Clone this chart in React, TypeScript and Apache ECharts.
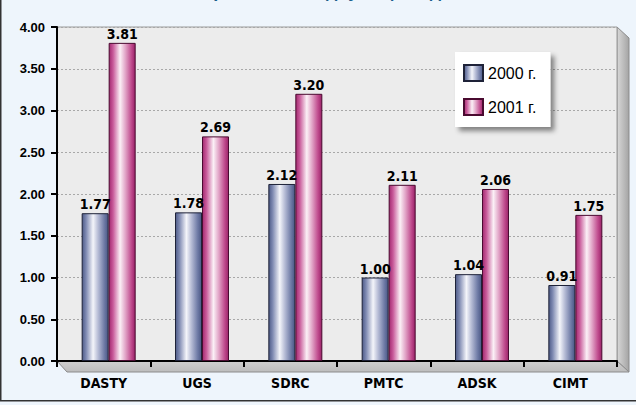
import React, { useEffect, useRef } from "react";
import * as echarts from "echarts";

const categories = ["DASTY", "UGS", "SDRC", "PMTC", "ADSK", "CIMT"];
const values2000 = [1.77, 1.78, 2.12, 1.0, 1.04, 0.91];
const values2001 = [3.81, 2.69, 3.2, 2.11, 2.06, 1.75];
const seriesNames = ["2000 г.", "2001 г."];
const yMin = 0;
const yMax = 4;
const yInterval = 0.5;
const titleText = "Прибыль на одну акцию, долл.";

const NARROW = "'Liberation Sans Narrow', 'DejaVu Sans Condensed', 'Liberation Sans', Arial, sans-serif";
const SANS = "'Liberation Sans', Arial, Helvetica, sans-serif";

const GL = 57, GT = 27, GW = 560, GH = 334, SHIFT = 5, DEPTH = 11;

export default function App() {
  const ref = useRef<HTMLDivElement>(null);
  useEffect(() => {
    if (!ref.current) return;
    const chart = echarts.init(ref.current, undefined, { renderer: "svg" });
    const blue = new echarts.graphic.LinearGradient(0, 0, 1, 0, [
      { offset: 0, color: "#4E5B88" },
      { offset: 0.15, color: "#7F8AB2" },
      { offset: 0.42, color: "#F4F5FA" },
      { offset: 0.62, color: "#B4BAD4" },
      { offset: 0.85, color: "#6F7BA6" },
      { offset: 1, color: "#4A5785" },
    ]);
    const pink = new echarts.graphic.LinearGradient(0, 0, 1, 0, [
      { offset: 0, color: "#A32A70" },
      { offset: 0.15, color: "#C85A9A" },
      { offset: 0.42, color: "#FBF0F6" },
      { offset: 0.62, color: "#E2A6C8" },
      { offset: 0.85, color: "#C04C8E" },
      { offset: 1, color: "#9A2268" },
    ]);
    const gb = GT + GH;
    const gr = GL + GW;
    const labelCfg = {
      show: true,
      position: "top" as const,
      distance: 2,
      fontFamily: NARROW,
      fontWeight: "bold" as const,
      fontSize: 14,
      color: "#000",
      formatter: (p: any) => Number(p.value).toFixed(2),
    };
    chart.setOption({
      animation: false,
      backgroundColor: "#EEF5FC",
      graphic: [
        {
          type: "polygon",
          z: -10,
          shape: { points: [[gr, GT], [gr + DEPTH + 1, GT + DEPTH], [gr + DEPTH + 1, gb + DEPTH], [gr, gb]] },
          style: {
            fill: new echarts.graphic.LinearGradient(0, 0, 1, 0, [
              { offset: 0, color: "#D8D8D8" },
              { offset: 1, color: "#A4A4A4" },
            ]),
            stroke: "#8C8C8C",
            lineWidth: 1,
          },
        },
        {
          type: "polygon",
          z: -10,
          shape: { points: [[GL, gb], [gr, gb], [gr + DEPTH + 1, gb + DEPTH], [GL + DEPTH - 1, gb + DEPTH]] },
          style: {
            fill: new echarts.graphic.LinearGradient(0, 0, 0, 1, [
              { offset: 0, color: "#CFCFCF" },
              { offset: 1, color: "#BDBDBD" },
            ]),
            stroke: "#8C8C8C",
            lineWidth: 1,
          },
        },
        {
          type: "line",
          z: 10,
          shape: { x1: 0.75, y1: 0, x2: 0.75, y2: 401 },
          style: { stroke: "#333", lineWidth: 1.5 },
        },
        {
          type: "line",
          z: 10,
          shape: { x1: 0, y1: 400.75, x2: 636, y2: 400.75 },
          style: { stroke: "#333", lineWidth: 1.5 },
        },
        {
          type: "text",
          z: 10,
          x: 340,
          y: 0,
          style: {
            text: titleText,
            fill: "#1B5F8C",
            font: "bold 18px " + SANS,
            align: "center",
            verticalAlign: "bottom",
          },
        },
      ],
      legend: {
        data: seriesNames,
        orient: "vertical",
        left: 455,
        top: 52,
        icon: "rect",
        itemWidth: 19,
        itemHeight: 16,
        itemGap: 16,
        padding: [12, 14, 11, 8],
        backgroundColor: "#FFFFFF",
        shadowBlur: 5,
        shadowColor: "rgba(0,0,0,0.45)",
        shadowOffsetX: 4,
        shadowOffsetY: 4,
        textStyle: { fontFamily: SANS, fontSize: 16, color: "#000" },
      },
      grid: [
        { left: GL, top: GT, width: GW, height: GH, show: true, backgroundColor: "#ECECEC", borderColor: "#9A9A9A", borderWidth: 1 },
        { left: GL + SHIFT, top: GT, width: GW, height: GH },
      ],
      xAxis: [
        {
          gridIndex: 0,
          type: "category",
          data: categories,
          boundaryGap: true,
          axisLine: { lineStyle: { color: "#000", width: 2 } },
          axisTick: { show: true, length: 6, lineStyle: { color: "#000", width: 2 } },
          axisLabel: { margin: 15, fontFamily: NARROW, fontWeight: "bold", fontSize: 14, color: "#000" },
        },
        { gridIndex: 1, type: "category", data: categories, show: false },
      ],
      yAxis: [
        {
          gridIndex: 0,
          type: "value",
          min: yMin,
          max: yMax,
          interval: yInterval,
          axisLine: { show: true, lineStyle: { color: "#000", width: 2 } },
          axisTick: { show: true, length: 6, lineStyle: { color: "#000", width: 2 } },
          axisLabel: { margin: 12, fontFamily: SANS, fontWeight: "bold", fontSize: 13, color: "#000", formatter: (v: number) => v.toFixed(2) },
          splitLine: { show: true, lineStyle: { color: "#A8A8A8", type: [2, 2], width: 1 } },
        },
        { gridIndex: 1, type: "value", min: yMin, max: yMax, interval: yInterval, show: false, splitLine: { show: false } },
      ],
      series: [
        {
          name: seriesNames[0],
          type: "bar",
          xAxisIndex: 1,
          yAxisIndex: 1,
          data: values2000,
          barWidth: 27,
          barGap: "0%",
          itemStyle: { color: blue, borderColor: "#1E2238", borderWidth: 1 },
          label: labelCfg,
        },
        {
          name: seriesNames[1],
          type: "bar",
          xAxisIndex: 1,
          yAxisIndex: 1,
          data: values2001,
          barWidth: 27,
          barGap: "0%",
          itemStyle: { color: pink, borderColor: "#4A0A30", borderWidth: 1 },
          label: labelCfg,
        },
      ],
    });
    return () => chart.dispose();
  }, []);
  return (
    <div
      ref={ref}
      style={{ position: "absolute", left: 0, top: 0, width: 636, height: 405 }}
    />
  );
}
